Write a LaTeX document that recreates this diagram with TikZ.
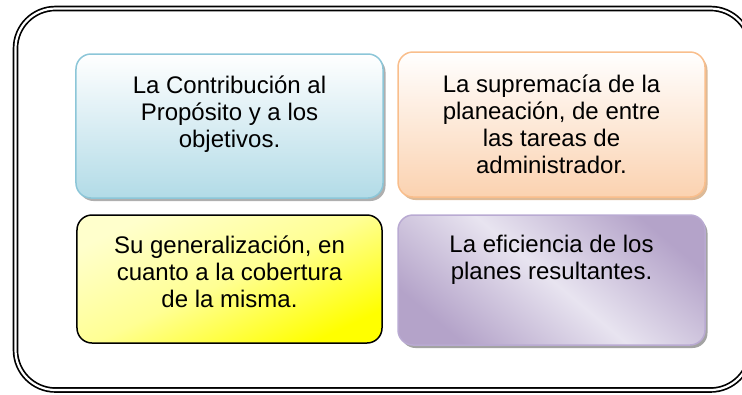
\documentclass[tikz,border=0pt]{standalone}
\usepackage{fontspec}
\setmainfont{Liberation Sans}
\usetikzlibrary{positioning, shadows}
\definecolor{azulfondo}{RGB}{178,219,231}
\definecolor{azulborde}{RGB}{140,198,216}
\definecolor{naranjafondo}{RGB}{251,210,176}
\definecolor{naranjaborde}{RGB}{249,190,140}
\definecolor{lilaoscuro}{RGB}{180,163,201}
\definecolor{lilaclaro}{RGB}{232,228,240}
\definecolor{lilaborde}{RGB}{185,170,210}
\tikzset{
	caja/.style={draw, rounded corners=15bp, line width=1.5bp},
	texto/.style={align=center, font=\fontsize{24bp}{27bp}\selectfont, inner sep=0pt},
	sombra/.style={drop shadow={shadow xshift=2.5bp, shadow yshift=-3bp, fill=#1, opacity=0.9}},
	marco/.style={draw, double, line width=1.7bp, double distance=2.2bp, rounded corners=40bp}
}

\begin{document}
\begin{tikzpicture}[x=1bp, y=-1bp]
					\useasboundingbox (0,0) rectangle (742,394);
					\node (M) at (383,199.25) [marco, minimum width=735bp, minimum height=381.5bp] {};
					% las cuatro cajas
					\node (A) at (229.5,126)   [caja, sombra=gray!70, draw=azulborde, top color=white, bottom color=azulfondo, minimum width=307bp, minimum height=144bp] {};
					\node (B) at (551.5,124.5) [caja, sombra=brown!60, draw=naranjaborde, top color=white, bottom color=naranjafondo, minimum width=307bp, minimum height=145bp] {};
					\node (C) at (229.5,279)   [caja, draw=black, top color=yellow!20, bottom color=yellow, middle color=yellow!42, shading angle=25, minimum width=305bp, minimum height=128bp] {};
					\node (D) at (551.5,280)   [caja, sombra=gray!80, draw=lilaborde, top color=lilaoscuro, bottom color=lilaoscuro, middle color=lilaclaro, shading angle=-40, minimum width=307bp, minimum height=130bp] {};
					% los textos (anclados en la base de la ultima linea)
					\node (TA) [texto, below=94bp of A.north, anchor=base] {La Contribución al\\Propósito y a los\\objetivos.};
					\node (TB) [texto, below=122bp of B.north, anchor=base] {La supremacía de la\\planeación, de entre\\las tareas de\\administrador.};
					\node (TC) [texto, below=93bp of C.north, anchor=base] {Su generalización, en\\cuanto a la cobertura\\de la misma.};
					\node (TD) [texto, below=65bp of D.north, anchor=base] {La eficiencia de los\\planes resultantes.};
\end{tikzpicture}
\end{document}
